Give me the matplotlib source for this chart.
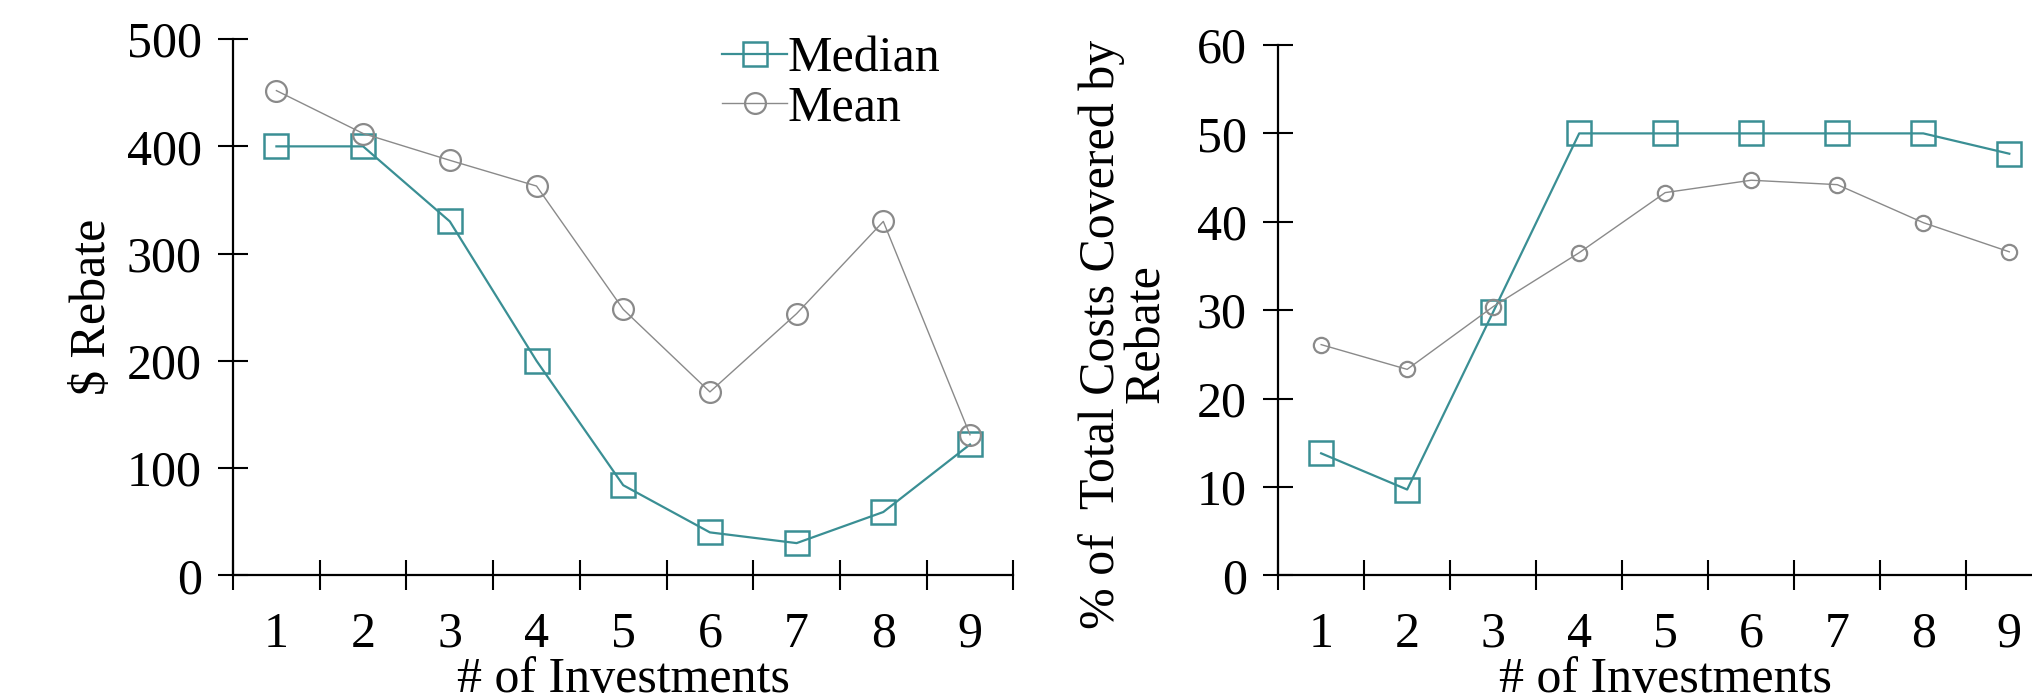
import numpy as np
import matplotlib
matplotlib.use("Agg")
import matplotlib.pyplot as plt
from matplotlib.ticker import FixedLocator

plt.rcParams["font.family"] = ["Liberation Serif", "DejaVu Serif"]

investments = [1, 2, 3, 4, 5, 6, 7, 8, 9]
rebate_median = [400, 400, 330, 200, 84, 40, 30, 59, 122]
rebate_mean = [452, 412, 387, 363, 248, 171, 244, 330, 131]
pct_median = [13.8, 9.7, 29.8, 50, 50, 50, 50, 50, 47.7]
pct_mean = [26.1, 23.3, 30.4, 36.5, 43.3, 44.7, 44.2, 39.9, 36.6]

TEAL = "#3a8f94"
GRAY = "#8a8a8a"
FS = 36


def style(ax, ymax, ystep):
    ax.set_xlim(0.5, 9.5)
    ax.set_ylim(0, ymax)
    for s in ("top", "right"):
        ax.spines[s].set_visible(False)
    for s in ("left", "bottom"):
        ax.spines[s].set_linewidth(1.6)
    ax.set_yticks(np.arange(0, ymax + 1, ystep))
    ax.xaxis.set_major_locator(FixedLocator(investments))
    ax.xaxis.set_minor_locator(FixedLocator(np.arange(0.5, 10, 1)))
    ax.tick_params(axis="x", which="major", length=0, pad=26, labelsize=FS)
    ax.tick_params(axis="x", which="minor", direction="inout", length=21, width=1.5)
    ax.tick_params(axis="y", direction="inout", length=21, width=1.5, pad=12, labelsize=FS)
    ax.set_xlabel("# of Investments", fontsize=FS, labelpad=-1)


fig = plt.figure(figsize=(20.32, 6.99), dpi=100)

ax1 = fig.add_axes([0.1147, 0.177, 0.384, 0.767])
ax1.plot(investments, rebate_median, color=TEAL, lw=1.6, marker="s", ms=17,
         mfc="none", mec=TEAL, mew=1.8, label="Median", clip_on=False)
ax1.plot(investments, rebate_mean, color=GRAY, lw=1.0, marker="o", ms=15,
         mfc="none", mec=GRAY, mew=1.6, label="Mean", clip_on=False)
style(ax1, 500, 100)
ax1.set_ylabel("$ Rebate", fontsize=FS, labelpad=8)
ax1.legend(loc="upper left", bbox_to_anchor=(0.627, 1.005), frameon=False, fontsize=FS,
           handlelength=1.3, handletextpad=0.0, labelspacing=0.05, borderaxespad=0.0,
           borderpad=0.0)

ax2 = fig.add_axes([0.629, 0.177, 0.381, 0.7586])
ax2.plot(investments, pct_median, color=TEAL, lw=1.6, marker="s", ms=17,
         mfc="none", mec=TEAL, mew=1.8, clip_on=False)
ax2.plot(investments, pct_mean, color=GRAY, lw=1.0, marker="o", ms=11,
         mfc="none", mec=GRAY, mew=1.6, clip_on=False)
style(ax2, 60, 10)
ax2.set_ylabel("% of  Total Costs Covered by\nRebate", fontsize=FS, linespacing=0.95)
ax2.yaxis.set_label_coords(-0.1395, 0.455)

fig.savefig("out.png", dpi=100)
